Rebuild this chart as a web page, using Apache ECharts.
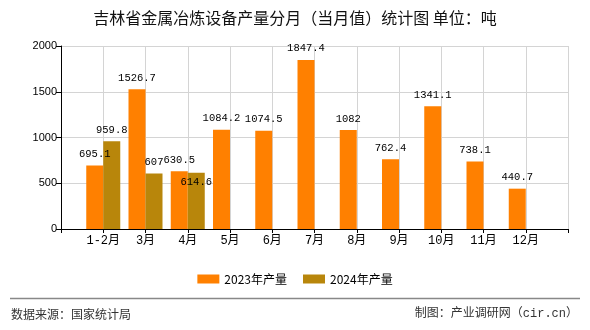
<!DOCTYPE html>
<html>
<head>
<meta charset="utf-8">
<script src="https://cdn.jsdelivr.net/npm/echarts@6/dist/echarts.min.js"></script>
<style>html,body{margin:0;padding:0;background:#fff}#c{width:590px;height:330px}</style>
</head>
<body>
<div id="c"></div>
<script>
var categories = ['1-2月','3月','4月','5月','6月','7月','8月','9月','10月','11月','12月'];
var values2023 = [695.1, 1526.7, 630.5, 1084.2, 1074.5, 1847.4, 1082, 762.4, 1341.1, 738.1, 440.7];
var values2024 = [959.8, 607, 614.6];
var seriesNames = ['2023年产量', '2024年产量'];
var yTicks = [0, 500, 1000, 1500, 2000];

var labelFont = "'Liberation Mono','Noto Sans CJK SC',monospace";
var cjk = "'Noto Sans CJK SC','Liberation Sans',sans-serif";

// pad with empty slots at both ends; optionally move one label inside its bar
function pad(arr, insideIndex) {
  var out = [null];
  for (var i = 0; i < categories.length; i++) {
    var v = i < arr.length ? arr[i] : null;
    if (i === insideIndex && v != null) {
      out.push({value: v, label: {position: 'insideTop', distance: 4}});
    } else {
      out.push(v);
    }
  }
  out.push(null);
  return out;
}
var xData = [''].concat(categories).concat(['']);

var chart = echarts.init(document.getElementById('c'), null, {renderer: 'canvas'});
chart.setOption({
  animation: false,
  backgroundColor: '#fff',
  title: {
    text: '吉林省金属冶炼设备产量分月（当月值）统计图 单位：吨',
    left: 'center', top: 5,
    textStyle: {fontSize: 16, fontWeight: 'normal', color: '#111', fontFamily: cjk}
  },
  legend: {
    data: seriesNames,
    top: 268, left: 'center',
    itemWidth: 22, itemHeight: 9, itemGap: 16,
    icon: 'rect',
    textStyle: {fontSize: 12, color: '#000', fontFamily: cjk}
  },
  grid: {left: 61, right: 22, top: 46, bottom: 101, containLabel: false},
  xAxis: {
    type: 'category',
    data: xData,
    boundaryGap: false,
    axisLine: {lineStyle: {color: '#000', width: 1}},
    axisTick: {show: true, length: 4, interval: 0, lineStyle: {color: '#000'}},
    axisLabel: {interval: 0, fontSize: 12, color: '#000', fontFamily: labelFont, margin: 6},
    splitLine: {show: true, interval: 0, lineStyle: {color: '#d4d4d4', width: 1}}
  },
  yAxis: {
    type: 'value',
    min: yTicks[0], max: yTicks[yTicks.length - 1], interval: 500,
    axisLine: {show: true, lineStyle: {color: '#000', width: 1}},
    axisTick: {show: true, length: 5, lineStyle: {color: '#000'}},
    axisLabel: {fontSize: 11, color: '#000', fontFamily: "'Liberation Sans',sans-serif", margin: 4,
      formatter: function (v) { return String(v); }},
    splitLine: {show: true, lineStyle: {color: '#d4d4d4', width: 1}}
  },
  series: [
    {
      name: seriesNames[0], type: 'bar', data: pad(values2023, -1),
      barWidth: 17, barGap: '0%',
      itemStyle: {color: '#FF8000'},
      label: {show: true, position: 'top', distance: 6, color: '#000', fontSize: 10.5, fontFamily: labelFont}
    },
    {
      name: seriesNames[1], type: 'bar', data: pad(values2024, 2),
      barWidth: 17, barGap: '0%',
      itemStyle: {color: '#B8860B'},
      label: {show: true, position: 'top', distance: 6, color: '#000', fontSize: 10.5, fontFamily: labelFont}
    }
  ],
  graphic: [
    {type: 'line', shape: {x1: 10, y1: 298.5, x2: 580, y2: 298.5}, style: {stroke: '#888', lineWidth: 1.5}},
    {type: 'text', left: 11, top: 308, style: {text: '数据来源：国家统计局', fontSize: 12, fill: '#333', fontFamily: cjk}},
    {type: 'text', right: 12, top: 308, style: {text: '制图：产业调研网（cir.cn）', fontSize: 12, fill: '#333', fontFamily: labelFont}}
  ]
});
</script>
</body>
</html>
